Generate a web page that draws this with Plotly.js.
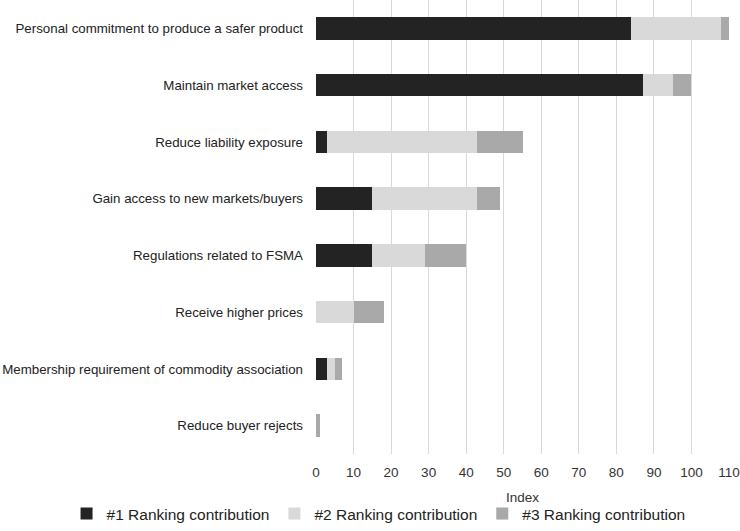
<!DOCTYPE html>
<html>
<head>
<meta charset="utf-8">
<script src="https://cdn.plot.ly/plotly-3.0.1.min.js"></script>
<style>html,body{margin:0;padding:0;background:#fff;}#chart{width:740px;height:531px;}</style>
</head>
<body>
<div id="chart"></div>
<script>
const categories = [
  "Personal commitment to produce a safer product",
  "Maintain market access",
  "Reduce liability exposure",
  "Gain access to new markets/buyers",
  "Regulations related to FSMA",
  "Receive higher prices",
  "Membership requirement of commodity association",
  "Reduce buyer rejects"
];
const rank1 = [84, 87, 3, 15, 15, 0, 3, 0];
const rank2 = [24, 8, 40, 28, 14, 10, 2, 0];
const rank3 = [2, 5, 12, 6, 11, 8, 2, 1];
const seriesNames = ["#1 Ranking contribution", "#2 Ranking contribution", "#3 Ranking contribution"];
const tickVals = [0,10,20,30,40,50,60,70,80,90,100,110];
const axisTitle = "Index";

const colors = ["#232323", "#d9d9d9", "#a9a9a9"];
const data = [rank1, rank2, rank3].map((vals, i) => ({
  type: "bar",
  orientation: "h",
  y: categories,
  x: vals,
  name: seriesNames[i],
  marker: {color: colors[i], line: {width: 0}},
  hoverinfo: "x+name"
}));

const layout = {
  width: 740, height: 531,
  margin: {l: 316, r: 11, t: 0, b: 76},
  barmode: "stack",
  bargap: 0.6,
  paper_bgcolor: "#fff",
  plot_bgcolor: "#fff",
  font: {family: "Liberation Sans, Arial, sans-serif", size: 13.3, color: "#222"},
  xaxis: {
    range: [0, 110],
    tickvals: tickVals,
    ticktext: tickVals.map(String),
    showgrid: true,
    gridcolor: "#d9d9d9",
    gridwidth: 1,
    zeroline: false,
    showline: false,
    ticks: "",
    ticklabelstandoff: 8,
    tickfont: {size: 13.5, color: "#333"}
  },
  yaxis: {
    autorange: "reversed",
    showgrid: false,
    zeroline: false,
    showline: false,
    ticks: "",
    ticklabelstandoff: 12,
    tickfont: {size: 13.3, color: "#222"}
  },
  annotations: [{
    text: axisTitle,
    xref: "paper", yref: "paper",
    x: 0.5, y: 0, yshift: -43,
    xanchor: "center", yanchor: "middle",
    showarrow: false,
    font: {size: 13.5, color: "#333"}
  }],
  showlegend: true,
  legend: {
    orientation: "h",
    xref: "paper", yref: "paper",
    x: -0.604, xanchor: "left",
    y: -0.1685, yanchor: "bottom",
    font: {size: 15.5, color: "#222"},
    itemwidth: 30,
    traceorder: "normal"
  }
};

Plotly.newPlot("chart", data, layout, {displayModeBar: false, staticPlot: true});
</script>
</body>
</html>
